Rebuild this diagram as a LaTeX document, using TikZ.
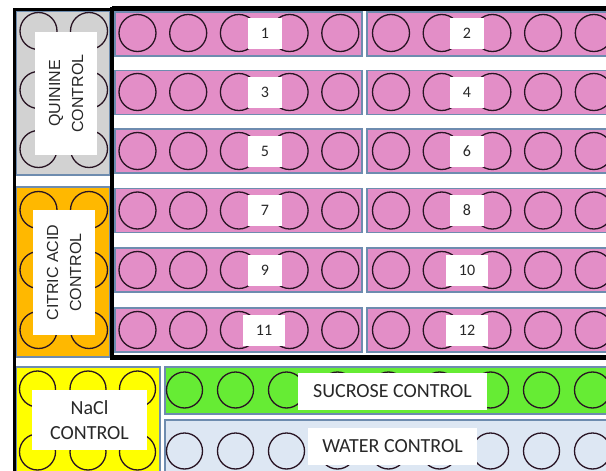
\documentclass[tikz,border=0pt]{standalone}
\usepackage{fontspec}
\setmainfont{Carlito}
\newfontfamily\arialf{Liberation Sans}
\definecolor{pinkc}{RGB}{227,142,199}
\definecolor{grayc}{RGB}{210,210,210}
\definecolor{orangec}{RGB}{255,184,0}
\definecolor{yellowc}{RGB}{255,255,0}
\definecolor{greenc}{RGB}{102,236,52}
\definecolor{bluec}{RGB}{221,231,243}
\definecolor{edgec}{RGB}{110,140,175}
\definecolor{ringc}{RGB}{40,20,35}
\definecolor{textc}{RGB}{40,40,40}
\begin{document}
\begin{tikzpicture}[x=1pt,y=-1pt,
  block/.style={draw=edgec,line width=1.2pt},
  well/.style={draw=ringc,line width=1.3pt},
  numtag/.style={fill=white,inner sep=0pt,minimum height=31pt,text=textc,font=\fontsize{16}{16}\selectfont},
  bigtag/.style={fill=white,inner sep=0pt,text=textc,align=center,font=\fontsize{20}{25}\selectfont},
  sidetag/.style={fill=white,inner sep=0pt,rotate=90,text=textc,align=center,font=\arialf\fontsize{16}{23}\selectfont},
  frameline/.style={line width=4.5pt,black}]
\useasboundingbox (0,0) rectangle (606,471);
% control boxes
\filldraw[block,fill=grayc] (16,11) rectangle (110,175);
\filldraw[block,fill=orangec] (16,187) rectangle (110,357);
\filldraw[block,fill=yellowc] (16,367) rectangle (160,474);
\filldraw[block,fill=greenc] (165,367) rectangle (612,414);
\filldraw[block,fill=bluec] (165,420) rectangle (612,474);
% pink rows
\foreach \t in {12,70.5,129,188.5,248,308}{
  \filldraw[block,fill=pinkc] (115,\t) rectangle (362,\t+44);
  \filldraw[block,fill=pinkc] (367,\t) rectangle (612,\t+44);
}
% wells in pink rows
\foreach \c in {33,92,151,210.5,270,330}{
  \foreach \x in {137.5,188.2,238.9,289.6,340.3,391,441.7,492.4,543.1,593.8}{
    \draw[well] (\x,\c) circle (18.5);
  }
}
% wells in side controls
\foreach \c in {31,90,149,210,270,330}{
  \foreach \x in {38.5,89}{
    \draw[well] (\x,\c) circle (18.5);
  }
}
\foreach \c in {389,452}{
  \foreach \x in {37.5,88,137.5}{
    \draw[well] (\x,\c) circle (18);
  }
}
\foreach \c in {390,451}{
  \foreach \x in {184.5,235.5,286.5,337.5,388.5,439.5,490.5,541.5,592.5}{
    \draw[well] (\x,\c) circle (18);
  }
}
% frame lines
\draw[line width=3pt,black] (14.5,474) -- (14.5,9.5) -- (112,9.5);
\draw[frameline] (112,8.5) -- (606,8.5);
\draw[frameline] (112,6.5) -- (112,357.5) -- (606,357.5);
% number labels
\node[numtag,minimum width=34pt] (n1) at (265,33) {1};
\node[numtag,minimum width=34pt] (n2) at (467,33) {2};
\node[numtag,minimum width=34pt] (n3) at (265,92) {3};
\node[numtag,minimum width=34pt] (n4) at (467,92) {4};
\node[numtag,minimum width=34pt] (n5) at (265,151) {5};
\node[numtag,minimum width=34pt] (n6) at (467,151) {6};
\node[numtag,minimum width=34pt] (n7) at (265,210.5) {7};
\node[numtag,minimum width=34pt] (n8) at (467,210.5) {8};
\node[numtag,minimum width=34pt] (n9) at (265,270) {9};
\node[numtag,minimum width=42pt] (n10) at (467,270) {10};
\node[numtag,minimum width=42pt] (n11) at (264,330) {11};
\node[numtag,minimum width=42pt] (n12) at (467,330) {12};
% control labels
\node[sidetag,minimum width=123pt,minimum height=62pt] (quin) at (66,93.5) {QUININE\\CONTROL};
\node[sidetag,minimum width=125pt,minimum height=62pt] (citr) at (64,272.5) {CITRIC ACID\\CONTROL};
\node[bigtag,minimum width=115pt,minimum height=60pt] (nacl) at (89.5,420) {NaCl\\CONTROL};
\node[bigtag,minimum width=189pt,minimum height=37pt] (sucr) at (392.5,391.5) {SUCROSE CONTROL};
\node[bigtag,minimum width=169pt,minimum height=37pt] (watr) at (392.5,446.5) {WATER CONTROL};
\end{tikzpicture}
\end{document}
